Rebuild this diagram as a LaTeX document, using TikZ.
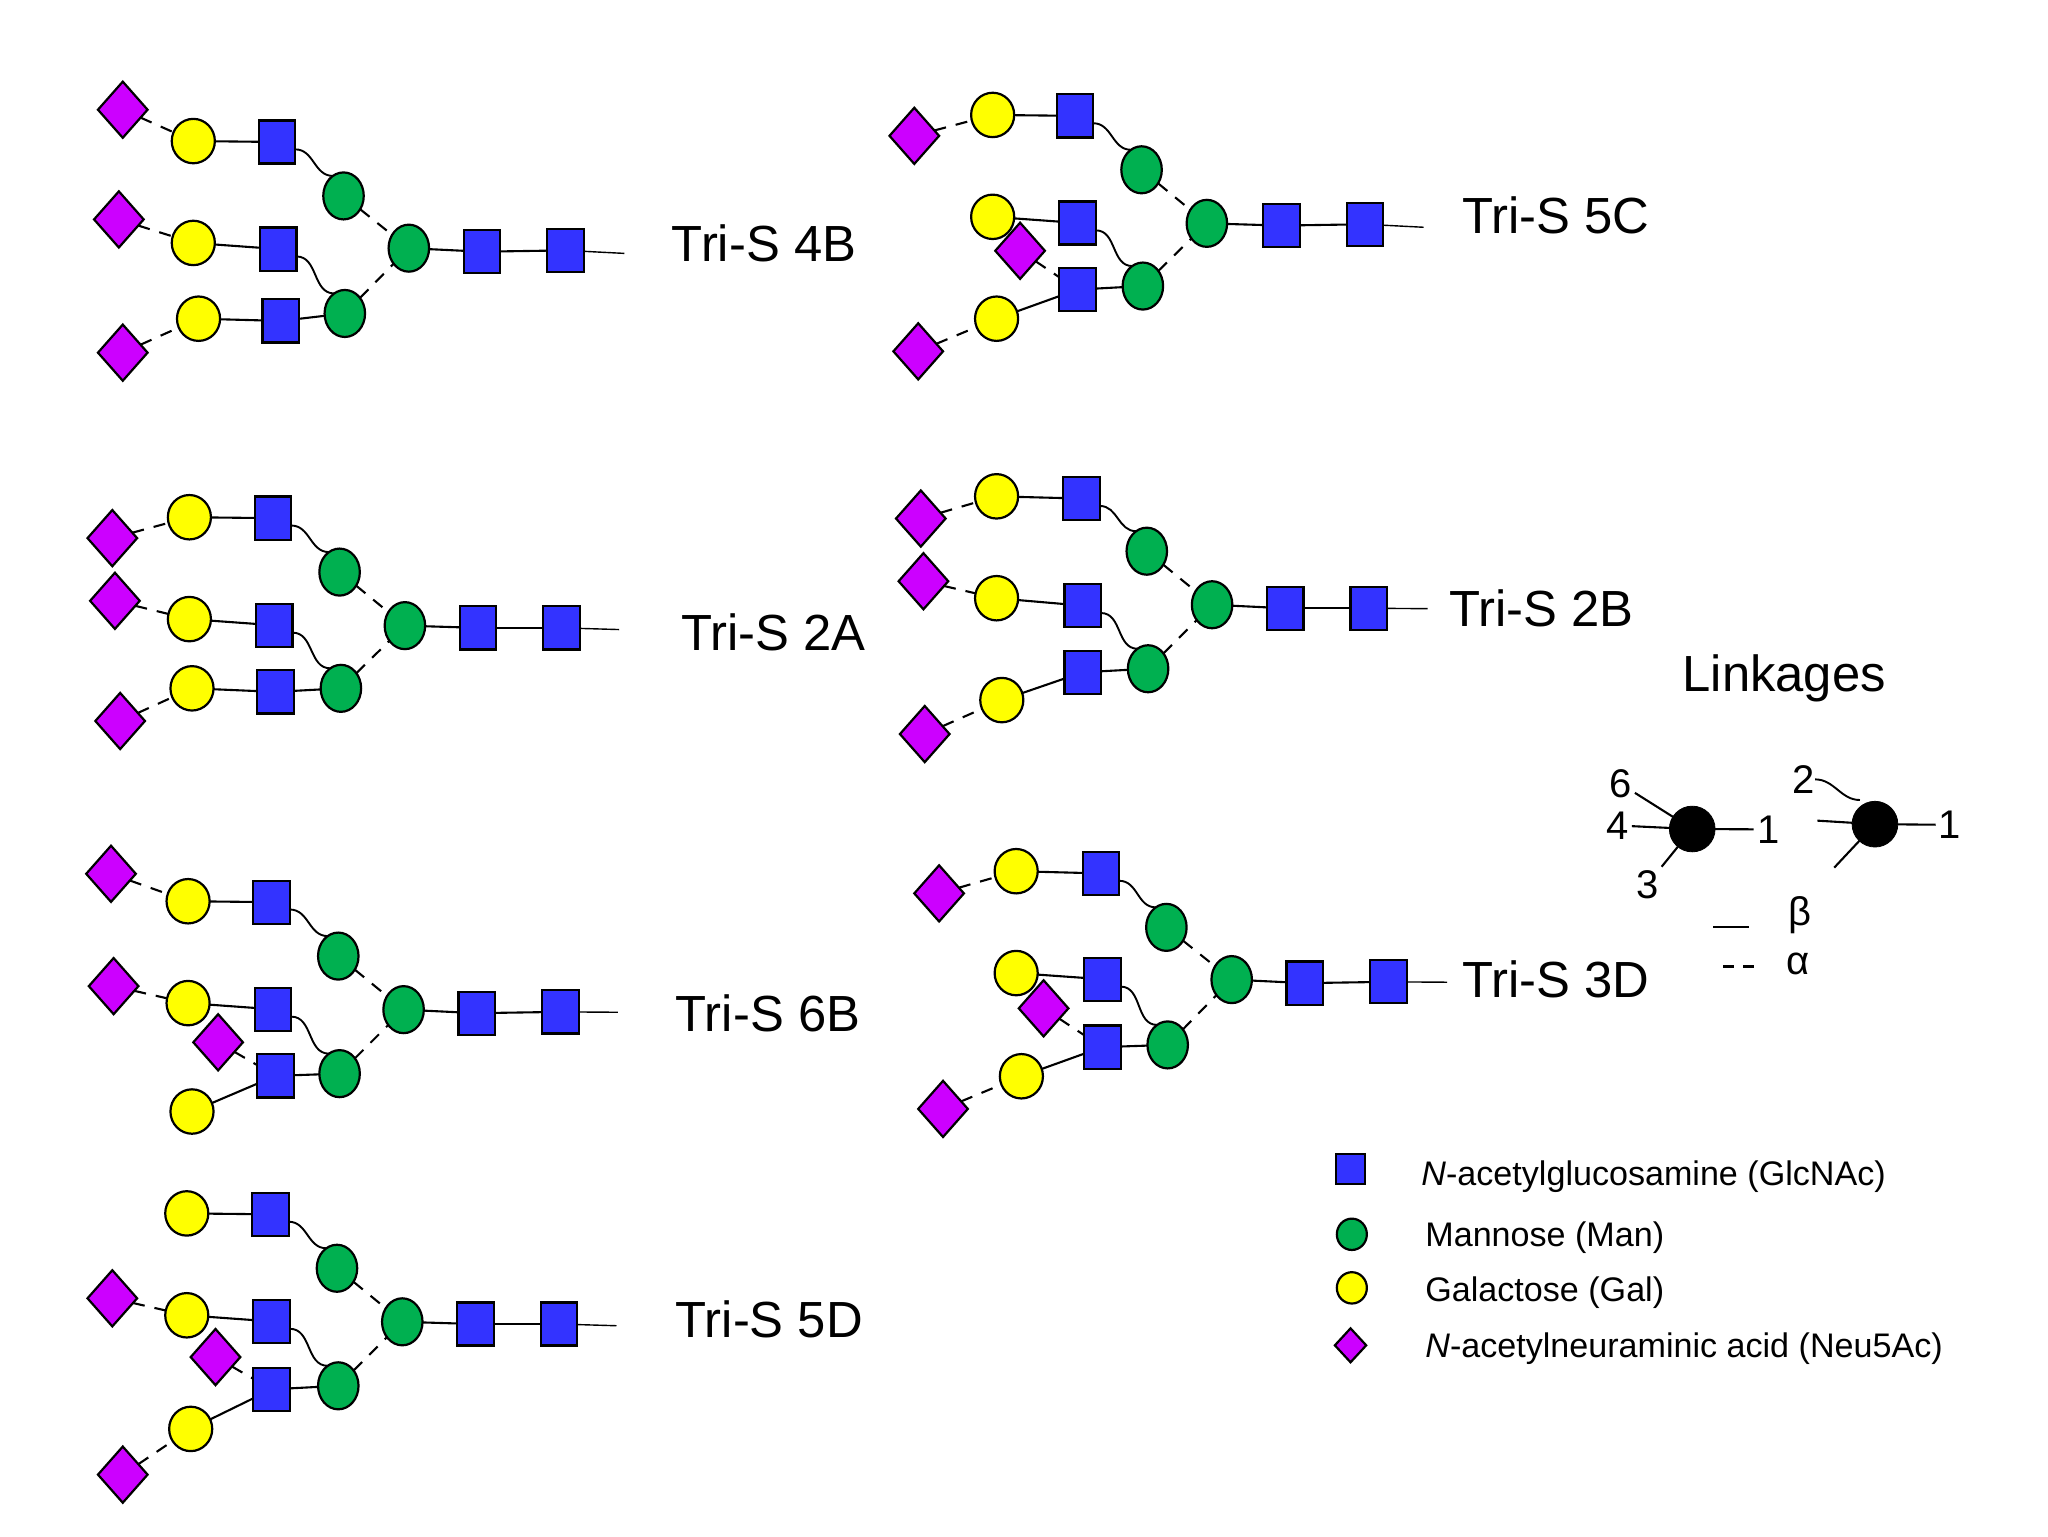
\documentclass[tikz,border=0pt]{standalone}
\usepackage{fontspec}
\setmainfont{Liberation Sans}
\usetikzlibrary{shapes.geometric}
\definecolor{glcblue}{HTML}{3333FF}
\definecolor{manGreen}{HTML}{00B050}
\definecolor{galYellow}{HTML}{FFFF00}
\definecolor{siaPurple}{HTML}{CC00FF}
\def\unitpx{0.65306pt}
\tikzset{
  x=\unitpx, y=-\unitpx,
  sugar/.style={draw=black, line width=1.1pt, inner sep=0pt, outer sep=0pt},
  glcnac/.style={sugar, rectangle, fill=glcblue, minimum width=28*\unitpx, minimum height=33*\unitpx},
  mannose/.style={sugar, ellipse, fill=manGreen, minimum width=31*\unitpx, minimum height=36*\unitpx},
  galactose/.style={sugar, ellipse, fill=galYellow, minimum width=33*\unitpx, minimum height=34*\unitpx},
  neu/.style={sugar, diamond, fill=siaPurple, minimum width=38*\unitpx, minimum height=43*\unitpx},
  lglc/.style={sugar, rectangle, fill=glcblue, minimum width=22*\unitpx, minimum height=23*\unitpx},
  lman/.style={sugar, ellipse, fill=manGreen, minimum width=23*\unitpx, minimum height=24*\unitpx},
  lgal/.style={sugar, ellipse, fill=galYellow, minimum width=23*\unitpx, minimum height=24*\unitpx},
  lneu/.style={sugar, diamond, fill=siaPurple, minimum width=24*\unitpx, minimum height=26*\unitpx},
  blackdot/.style={draw=black, fill=black, circle, inner sep=0pt, outer sep=0pt, minimum size=35*\unitpx},
  solidlink/.style={line width=1.05pt, draw=black},
  alink/.style={line width=1.05pt, draw=black, dash pattern=on 6pt off 5pt},
  wavelink/.style={line width=0.95pt, draw=black},
  taillink/.style={line width=0.7pt, draw=black},
  title/.style={inner sep=0pt, font=\fontsize{25.4}{30}\selectfont},
  legendtext/.style={inner sep=0pt, anchor=west, font=\fontsize{17.05}{20}\selectfont},
  numlabel/.style={inner sep=1.5pt, font=\fontsize{20}{24}\selectfont},
}
\newcommand\Glc[3]{\node[glcnac] (#1) at (#2,#3+0.7) {};}
\newcommand\Man[3]{\node[mannose] (#1) at (#2,#3) {};}
\newcommand\Gal[3]{\node[galactose] (#1) at (#2,#3) {};}
\newcommand\Neu[3]{\node[neu] (#1) at (#2,#3) {};}
% common links of every glycan: names P-g1,P-s1,P-m1,P-g2,P-s2,P-m2,P-g3,P-s3,P-c,P-r1,P-r2,P-t
\newcommand\CoreLinks[1]{%
  \draw[solidlink] (#1-g1) -- (#1-s1);
  \draw[solidlink] (#1-g2) -- (#1-s2);
  \draw[solidlink] (#1-g3) -- (#1-s3);
  \draw[solidlink] (#1-s3) -- (#1-m2);
  \draw[wavelink] (#1-s1.-22) to[out=0,in=180,looseness=1.05] (#1-m1.118);
  \draw[wavelink] (#1-s2.-22) to[out=0,in=180,looseness=1.05] (#1-m2.118);
  \draw[alink] (#1-m1) -- (#1-c);
  \draw[alink] (#1-m2) -- (#1-c);
  \draw[solidlink] (#1-c) -- (#1-r1);
  \draw[solidlink] (#1-r1) -- (#1-r2);
  \draw[taillink] (#1-r2) -- (#1-t);
}
\begin{document}
\begin{tikzpicture}
\useasboundingbox (0,0) rectangle (1568,1176);

% ---- Tri-S 4B
\Gal{a-g1}{148}{108}\Glc{a-s1}{212}{108}\Man{a-m1}{263}{150}
\Gal{a-g2}{148}{186}\Glc{a-s2}{213}{190}\Man{a-m2}{264}{240}
\Gal{a-g3}{152}{244}\Glc{a-s3}{215}{245}
\Man{a-c}{313}{190}\Glc{a-r1}{369}{192}\Glc{a-r2}{433}{191}\coordinate (a-t) at (478,194);
\Neu{a-n1}{94}{84}\Neu{a-n2}{91}{168}\Neu{a-n3}{94}{270}
\CoreLinks{a}
\draw[alink] (a-n1) -- (a-g1);\draw[alink] (a-n2) -- (a-g2);\draw[alink] (a-n3) -- (a-g3);
\node[title] (a-l) at (585,186) {Tri-S 4B};

% ---- Tri-S 5C
\Gal{b-g1}{760}{88}\Glc{b-s1}{823}{88}\Man{b-m1}{874}{130}
\Gal{b-g2}{760}{166}\Glc{b-s2}{825}{170}\Man{b-m2}{875}{219}
\Gal{b-g3}{763}{244}\Glc{b-s3}{825}{221}
\Man{b-c}{924}{171}\Glc{b-r1}{981}{172}\Glc{b-r2}{1045}{171}\coordinate (b-t) at (1090,174);
\Neu{b-n1}{700}{104}\Neu{b-n2}{781}{192}\Neu{b-n3}{703}{269}
\CoreLinks{b}
\draw[alink] (b-n1) -- (b-g1);\draw[alink] (b-n2) -- (b-s3);\draw[alink] (b-n3) -- (b-g3);
\node[title] (b-l) at (1191,165) {Tri-S 5C};

% ---- Tri-S 2A
\Gal{c-g1}{145}{396}\Glc{c-s1}{209}{396}\Man{c-m1}{260}{438}
\Gal{c-g2}{145}{474}\Glc{c-s2}{210}{478}\Man{c-m2}{261}{527}
\Gal{c-g3}{147}{527}\Glc{c-s3}{211}{529}
\Man{c-c}{310}{479}\Glc{c-r1}{366}{480}\Glc{c-r2}{430}{480}\coordinate (c-t) at (474,482);
\Neu{c-n1}{86}{412}\Neu{c-n2}{88}{460}\Neu{c-n3}{92}{552}
\CoreLinks{c}
\draw[alink] (c-n1) -- (c-g1);\draw[alink] (c-n2) -- (c-g2);\draw[alink] (c-n3) -- (c-g3);
\node[title] (c-l) at (592,484) {Tri-S 2A};

% ---- Tri-S 2B
\Gal{d-g1}{763}{380}\Glc{d-s1}{828}{381}\Man{d-m1}{878}{422}
\Gal{d-g2}{763}{458}\Glc{d-s2}{829}{463}\Man{d-m2}{879}{512}
\Gal{d-g3}{767}{536}\Glc{d-s3}{829}{514}
\Man{d-c}{928}{463}\Glc{d-r1}{984}{465}\Glc{d-r2}{1048}{465}\coordinate (d-t) at (1093,466);
\Neu{d-n1}{705}{397}\Neu{d-n2}{707}{445}\Neu{d-n3}{708}{562}
\CoreLinks{d}
\draw[alink] (d-n1) -- (d-g1);\draw[alink] (d-n2) -- (d-g2);\draw[alink] (d-n3) -- (d-g3);
\node[title] (d-l) at (1180,466) {Tri-S 2B};

% ---- Tri-S 6B
\Gal{e-g1}{144}{690}\Glc{e-s1}{208}{690}\Man{e-m1}{259}{732}
\Gal{e-g2}{144}{768}\Glc{e-s2}{209}{772}\Man{e-m2}{260}{822}
\Gal{e-g3}{147}{851}\Glc{e-s3}{211}{823}
\Man{e-c}{309}{773}\Glc{e-r1}{365}{775}\Glc{e-r2}{429}{774}\coordinate (e-t) at (473,775);
\Neu{e-n1}{85}{669}\Neu{e-n2}{87}{755}\Neu{e-n3}{167}{798}
\CoreLinks{e}
\draw[alink] (e-n1) -- (e-g1);\draw[alink] (e-n2) -- (e-g2);\draw[alink] (e-n3) -- (e-s3);
\node[title] (e-l) at (588,776) {Tri-S 6B};

% ---- Tri-S 5D
\Gal{f-g1}{143}{929}\Glc{f-s1}{207}{929}\Man{f-m1}{258}{971}
\Gal{f-g2}{143}{1007}\Glc{f-s2}{208}{1011}\Man{f-m2}{259}{1061}
\Gal{f-g3}{146}{1094}\Glc{f-s3}{208}{1063}
\Man{f-c}{308}{1012}\Glc{f-r1}{364}{1013}\Glc{f-r2}{428}{1013}\coordinate (f-t) at (472,1015);
\Neu{f-n2}{86}{994}\Neu{f-n3}{165}{1039}\Neu{f-n4}{94}{1129}
\CoreLinks{f}
\draw[alink] (f-n2) -- (f-g2);\draw[alink] (f-n3) -- (f-s3);\draw[alink] (f-n4) -- (f-g3);
\node[title] (f-l) at (589,1010) {Tri-S 5D};

% ---- Tri-S 3D
\Gal{h-g1}{778}{667}\Glc{h-s1}{843}{668}\Man{h-m1}{893}{710}
\Gal{h-g2}{778}{745}\Glc{h-s2}{844}{749}\Man{h-m2}{894}{800}
\Gal{h-g3}{782}{824}\Glc{h-s3}{844}{801}
\Man{h-c}{943}{750}\Glc{h-r1}{999}{752}\Glc{h-r2}{1063}{751}\coordinate (h-t) at (1108,752);
\Neu{h-n1}{719}{684}\Neu{h-n2}{799}{772}\Neu{h-n3}{722}{849}
\CoreLinks{h}
\draw[alink] (h-n1) -- (h-g1);\draw[alink] (h-n2) -- (h-s3);\draw[alink] (h-n3) -- (h-g3);
\node[title] (h-l) at (1191,750) {Tri-S 3D};

% ---- Linkages
\node[title] (linktitle) at (1366,519) {Linkages};
\node[blackdot] (dotL) at (1295.6,634.7) {};
\node[blackdot] (dotR) at (1435.5,631) {};
\node[numlabel] (n6) at (1240.6,600) {6};
\node[numlabel] (n4) at (1238.3,632) {4};
\node[numlabel] (n1L) at (1353.7,635) {1};
\node[numlabel] (n3) at (1261.3,677) {3};
\node[numlabel] (n2) at (1380.7,597) {2};
\node[numlabel] (n1R) at (1493,631.5) {1};
\coordinate (freeW) at (1391.4,628.3);
\coordinate (freeSW) at (1404.3,664.3);
\coordinate (waveS) at (1389.7,596.7);
\coordinate (waveE) at (1424,612.5);
\draw[solidlink] (n6) -- (dotL);
\draw[solidlink] (n4) -- (dotL);
\draw[solidlink] (dotL) -- (n1L);
\draw[solidlink] (dotL) -- (n3);
\draw[solidlink] (dotR) -- (n1R);
\draw[solidlink] (freeW) -- (dotR);
\draw[solidlink] (freeSW) -- (dotR);
\draw[wavelink] (waveS) to[out=0,in=180,looseness=1] (waveE);
\coordinate (betaA) at (1311.8,709.5);
\coordinate (betaB) at (1339,709.5);
\coordinate (alphaA) at (1319.5,740);
\coordinate (alphaB) at (1343,740);
\draw[solidlink] (betaA) -- (betaB);
\draw[solidlink, dash pattern=on 5.5pt off 4.5pt] (alphaA) -- (alphaB);
\node[numlabel] (betaT) at (1378,701) {β};
\node[numlabel] (alphaT) at (1376.4,738) {α};

% ---- Legend
\node[lglc] (lg1) at (1034,895) {};
\node[lman] (lg2) at (1035,945) {};
\node[lgal] (lg3) at (1035,986) {};
\node[lneu] (lg4) at (1034,1030) {};
\node[legendtext] (lt1) at (1088,900.5) {\textit{N}-acetylglucosamine (GlcNAc)};
\node[legendtext] (lt2) at (1091,947.5) {Mannose (Man)};
\node[legendtext] (lt3) at (1091,989.5) {Galactose (Gal)};
\node[legendtext] (lt4) at (1091,1032.5) {\textit{N}-acetylneuraminic acid (Neu5Ac)};
\end{tikzpicture}
\end{document}
